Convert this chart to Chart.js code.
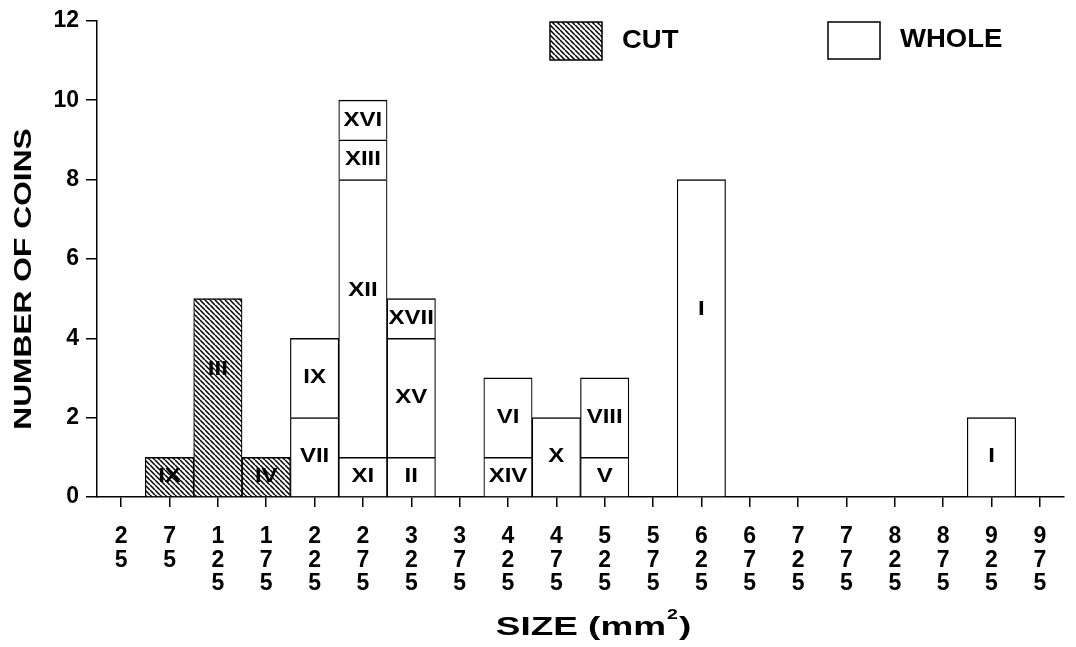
<!DOCTYPE html>
<html>
<head>
<meta charset="utf-8">
<script src="https://cdn.jsdelivr.net/npm/chart.js@4.4.1/dist/chart.umd.min.js"></script>
<style>
  html, body { margin: 0; padding: 0; background: #fff; }
  #wrap { width: 1076px; height: 647px; }
</style>
</head>
<body>
<div id="wrap"><canvas id="chart" width="1076" height="647"></canvas></div>
<script>
// size bins (mm^2), ticks are printed one digit per line
const sizeBins = ['25', '75', '125', '175', '225', '275', '325', '375', '425', '475',
                  '525', '575', '625', '675', '725', '775', '825', '875', '925', '975'];

// cut coins (hatched)
const cutCounts = [null, 1, 5, 1, null, null, null, null, null, null,
                   null, null, null, null, null, null, null, null, null, null];
const cutIds    = ['', 'IX', 'III', 'IV', '', '', '', '', '', '',
                   '', '', '', '', '', '', '', '', '', ''];

// whole coins, stacked from the bottom up
const whole1    = [null, null, null, null, 2, 1, 1, null, 1, 2,
                   1, null, 8, null, null, null, null, null, 2, null];
const whole1Ids = ['', '', '', '', 'VII', 'XI', 'II', '', 'XIV', 'X',
                   'V', '', 'I', '', '', '', '', '', 'I', ''];
const whole2    = [null, null, null, null, 2, 7, 3, null, 2, null,
                   2, null, null, null, null, null, null, null, null, null];
const whole2Ids = ['', '', '', '', 'IX', 'XII', 'XV', '', 'VI', '',
                   'VIII', '', '', '', '', '', '', '', '', ''];
const whole3    = [null, null, null, null, null, 1, 1, null, null, null,
                   null, null, null, null, null, null, null, null, null, null];
const whole3Ids = ['', '', '', '', '', 'XIII', 'XVII', '', '', '',
                   '', '', '', '', '', '', '', '', '', ''];
const whole4    = [null, null, null, null, null, 1, null, null, null, null,
                   null, null, null, null, null, null, null, null, null, null];
const whole4Ids = ['', '', '', '', '', 'XVI', '', '', '', '',
                   '', '', '', '', '', '', '', '', '', ''];

const segmentIds = [cutIds, whole1Ids, whole2Ids, whole3Ids, whole4Ids];

const FONT = '"Liberation Sans", Arial, Helvetica, sans-serif';

function makeHatch() {
    const s = 5;
    const c = document.createElement('canvas');
    c.width = s; c.height = s;
    const g = c.getContext('2d');
    g.fillStyle = '#fff';
    g.fillRect(0, 0, s, s);
    g.strokeStyle = '#000';
    g.lineWidth = 1.5;
    g.beginPath();
    for (const o of [-s, 0, s]) { g.moveTo(o, 0); g.lineTo(o + s, s); }
    g.stroke();
    return g.createPattern(c, 'repeat');
}
const ctx = document.getElementById('chart').getContext('2d');
const hatch = makeHatch();

// text drawn a bit wider than the font, like the old plotter lettering
function wideText(c, text, x, y, size, sx, align) {
    c.save();
    c.font = 'bold ' + size + 'px ' + FONT;
    c.textBaseline = 'middle';
    c.fillStyle = '#000';
    const w = c.measureText(text).width * sx;
    let left = x;
    if (align === 'center') left = x - w / 2;
    c.translate(left, y);
    c.scale(sx, 1);
    c.textAlign = 'left';
    c.fillText(text, 0, 0);
    c.restore();
    return w;
}
function textWidth(c, text, size, sx) {
    c.save();
    c.font = 'bold ' + size + 'px ' + FONT;
    const w = c.measureText(text).width * sx;
    c.restore();
    return w;
}

const barBorder = { top: 1.5, left: 1.2, right: 1.2, bottom: 0 };

const decor = {
    id: 'decor',
    afterDraw(chart) {
        const c = chart.ctx;
        const area = chart.chartArea;

        // roman numeral ids inside each segment
        chart.data.datasets.forEach((ds, i) => {
            const meta = chart.getDatasetMeta(i);
            meta.data.forEach((el, j) => {
                const id = segmentIds[i][j];
                if (!id || ds.data[j] == null) return;
                let y = (el.y + el.base) / 2;
                if (el.base - el.y > 150) y -= 28;
                wideText(c, id, el.x, y, 20, 1.2, 'center');
            });
        });

        // legend
        c.save();
        c.lineWidth = 1.5;
        c.strokeStyle = '#000';
        c.fillStyle = hatch;
        c.fillRect(550, 22, 52, 38);
        c.strokeRect(550, 22, 52, 38);
        c.fillStyle = '#fff';
        c.fillRect(828, 22, 52, 37);
        c.strokeRect(828, 22, 52, 37);
        c.restore();
        wideText(c, 'CUT', 622, 41, 25, 1.1, 'left');
        wideText(c, 'WHOLE', 900, 40, 25, 1.1, 'left');

        // x title with a raised 2
        const main = 'SIZE (mm', sup = '2', close = ')';
        const wMain = textWidth(c, main, 26, 1.42);
        const wSup = textWidth(c, sup, 15, 1.3) + 2;
        const wClose = textWidth(c, close, 26, 1.42);
        let tx = (area.left + area.right) / 2 + 13 - (wMain + wSup + wClose) / 2;
        tx += wideText(c, main, tx, 628, 26, 1.42, 'left');
        wideText(c, sup, tx + 1, 615, 15, 1.3, 'left');
        tx += wSup;
        wideText(c, close, tx, 628, 26, 1.42, 'left');

        // y title
        c.save();
        c.translate(24, 279);
        c.rotate(-Math.PI / 2);
        c.font = 'bold 23px ' + FONT;
        c.textAlign = 'center';
        c.textBaseline = 'middle';
        c.fillStyle = '#000';
        c.scale(1.38, 1.08);
        c.fillText('NUMBER OF COINS', 0, 0);
        c.restore();
    }
};

new Chart(ctx, {
    type: 'bar',
    data: {
        labels: sizeBins,
        datasets: [
            { label: 'CUT', data: cutCounts, backgroundColor: hatch },
            { label: 'WHOLE', data: whole1, backgroundColor: '#fff' },
            { label: 'WHOLE', data: whole2, backgroundColor: '#fff' },
            { label: 'WHOLE', data: whole3, backgroundColor: '#fff' },
            { label: 'WHOLE', data: whole4, backgroundColor: '#fff' }
        ].map(d => Object.assign(d, {
            borderColor: '#000',
            borderWidth: barBorder,
            borderSkipped: false,
            categoryPercentage: 1,
            barPercentage: 1
        }))
    },
    options: {
        responsive: false,
        animation: false,
        devicePixelRatio: 1,
        layout: { padding: { top: 16, right: 12, left: 0, bottom: 0 } },
        plugins: {
            legend: { display: false },
            tooltip: { enabled: false }
        },
        scales: {
            x: {
                stacked: true,
                offset: true,
                afterFit: s => { s.height = 150; },
                border: { display: true, color: '#000', width: 1.5 },
                grid: { display: true, offset: false, drawOnChartArea: false, drawTicks: true,
                        tickLength: 10, color: '#000', lineWidth: 1.5 },
                ticks: {
                    color: '#000',
                    padding: 18,
                    maxRotation: 0,
                    autoSkip: false,
                    font: { family: FONT, size: 23, weight: 'bold', lineHeight: 1.02 },
                    callback: (v, i) => sizeBins[i].split('')
                }
            },
            y: {
                stacked: true,
                min: 0,
                max: 12,
                afterFit: s => { s.width = 97; },
                border: { display: true, color: '#000', width: 1.5 },
                grid: { display: true, drawOnChartArea: false, drawTicks: true,
                        tickLength: 11, color: '#000', lineWidth: 1.5 },
                ticks: {
                    stepSize: 2,
                    color: '#000',
                    padding: 7,
                    font: { family: FONT, size: 23, weight: 'bold' }
                }
            }
        }
    },
    plugins: [decor]
});
</script>
</body>
</html>
